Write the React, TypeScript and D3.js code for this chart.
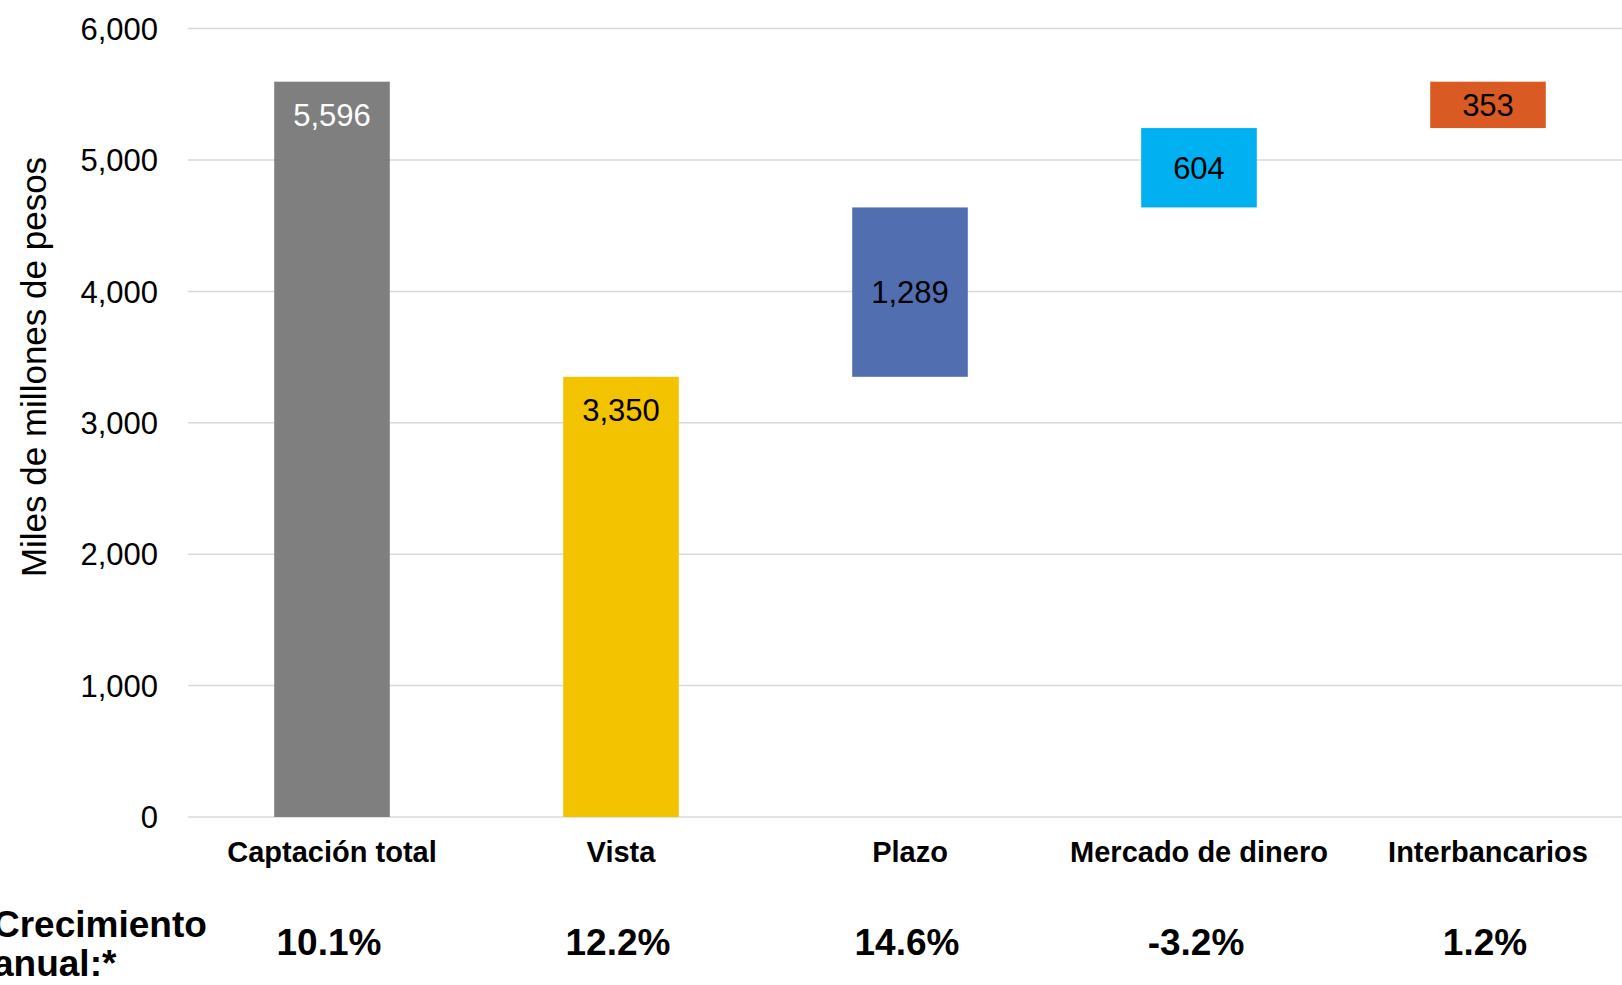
import React from "react";
import * as d3 from "d3";

const categories = ["Captación total", "Vista", "Plazo", "Mercado de dinero", "Interbancarios"];
const values = [5596, 3350, 1289, 604, 353];
const bases = [0, 0, 3350, 4639, 5243];
const isTotal = [true, true, false, false, false];
const growth = ["10.1%", "12.2%", "14.6%", "-3.2%", "1.2%"];
const colors = ["#7f7f7f", "#f4c300", "#516eb1", "#00b0f0", "#da5a24"];
const labelColors = ["#ffffff", "#000000", "#000000", "#000000", "#000000"];
const yTicks = [0, 1000, 2000, 3000, 4000, 5000, 6000];

const W = 1622;
const H = 985;
const FONT = "'Liberation Sans', Arial, Helvetica, sans-serif";

export default function App() {
  const x = d3
    .scaleBand<string>()
    .domain(categories)
    .range([187.5, 1632.5])
    .paddingInner(0.6)
    .paddingOuter(0.3);
  const y = d3.scaleLinear().domain([0, 6000]).range([817, 28.6]);
  const fmt = d3.format(",");
  const bw = x.bandwidth();

  return (
    <svg
      width={W}
      height={H}
      style={{ position: "absolute", left: 0, top: 0, background: "#fff" }}
      fontFamily={FONT}
    >
      {yTicks.map((t) => (
        <g key={t}>
          <line x1={188} x2={W} y1={y(t)} y2={y(t)} stroke="#d9d9d9" strokeWidth={1.5} />
          <text x={158} y={y(t)} dy="0.36em" textAnchor="end" fontSize={31} fill="#000">
            {fmt(t)}
          </text>
        </g>
      ))}
      <text
        transform={`translate(46,367) rotate(-90)`}
        textAnchor="middle"
        fontSize={35}
        fill="#000"
      >
        Miles de millones de pesos
      </text>
      {categories.map((c, i) => {
        const x0 = x(c)!;
        const top = y(bases[i] + values[i]);
        const bot = y(bases[i]);
        const cx = x0 + bw / 2;
        const ly = isTotal[i] ? top + 44 : (top + bot) / 2 + 11;
        return (
          <g key={c}>
            <rect x={x0} y={top} width={bw} height={bot - top} fill={colors[i]} />
            <text x={cx} y={ly} textAnchor="middle" fontSize={31} fill={labelColors[i]}>
              {fmt(values[i])}
            </text>
            <text x={cx} y={862} textAnchor="middle" fontSize={29} fontWeight="bold" fill="#000">
              {c}
            </text>
            <text x={cx - 3} y={955} textAnchor="middle" fontSize={37} fontWeight="bold" fill="#000">
              {growth[i]}
            </text>
          </g>
        );
      })}
      <text x={-7} y={937} fontSize={37} fontWeight="bold" fill="#000">
        Crecimiento
      </text>
      <text x={-7} y={976} fontSize={37} fontWeight="bold" fill="#000">
        anual:*
      </text>
    </svg>
  );
}
